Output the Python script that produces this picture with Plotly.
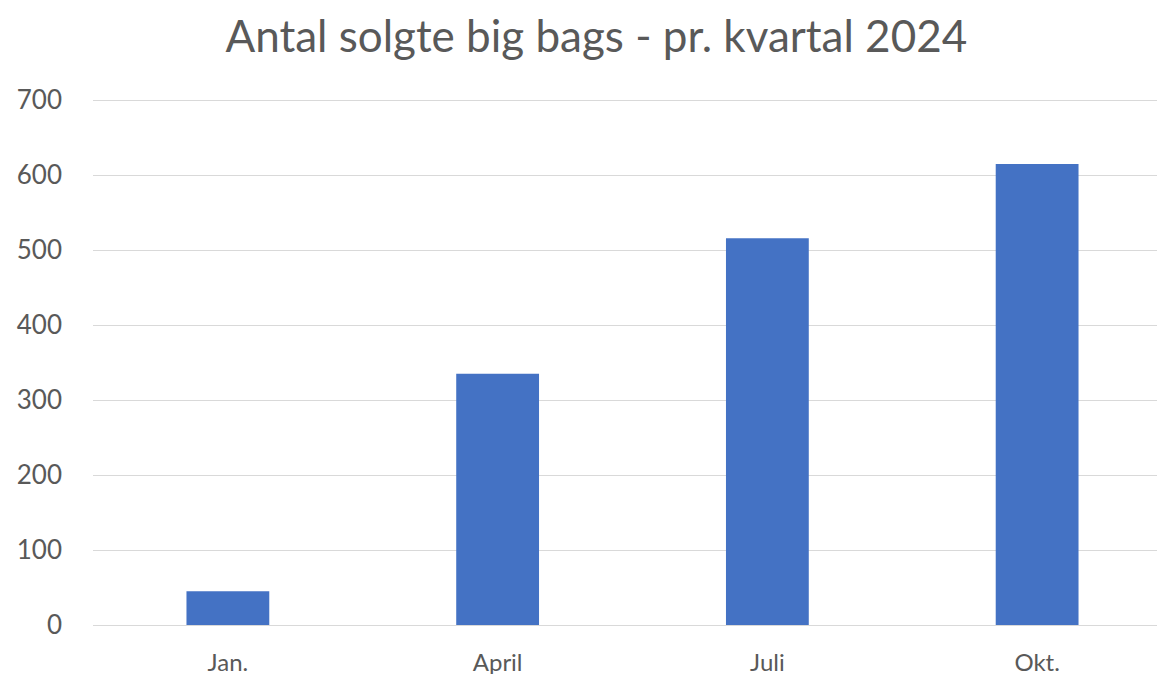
import plotly.graph_objects as go

categories = ["Jan.", "April", "Juli", "Okt."]
values = [45, 335, 516, 615]
title_text = "Antal solgte big bags - pr. kvartal 2024"

fig = go.Figure()
fig.add_trace(go.Bar(
    x=categories, y=values,
    marker=dict(color="#4472C4", line=dict(width=0)),
    width=0.307,
))

fig.update_layout(
    width=1165, height=674,
    paper_bgcolor="white", plot_bgcolor="white",
    margin=dict(l=85, r=1, t=90, b=57),
    title=dict(text=title_text, x=0.505, xanchor="center", y=0.958, yanchor="middle",
               font=dict(family="Lato", size=44, color="#595959")),
    font=dict(family="Lato", color="#595959"),
    showlegend=False,
    xaxis=dict(range=[-0.5, 3.5], showgrid=False, showline=True, linecolor="#d9d9d9",
               linewidth=1, tickfont=dict(size=24, color="#595959"), ticks="",
               ticklabelstandoff=16),
    yaxis=dict(range=[0, 703], tickvals=[0, 100, 200, 300, 400, 500, 600, 700],
               showgrid=True, gridcolor="#d9d9d9", gridwidth=1,
               zeroline=False, tickfont=dict(size=26, color="#595959"), ticks="",
               ticklabelstandoff=30),
)

fig.write_html("out.html")
